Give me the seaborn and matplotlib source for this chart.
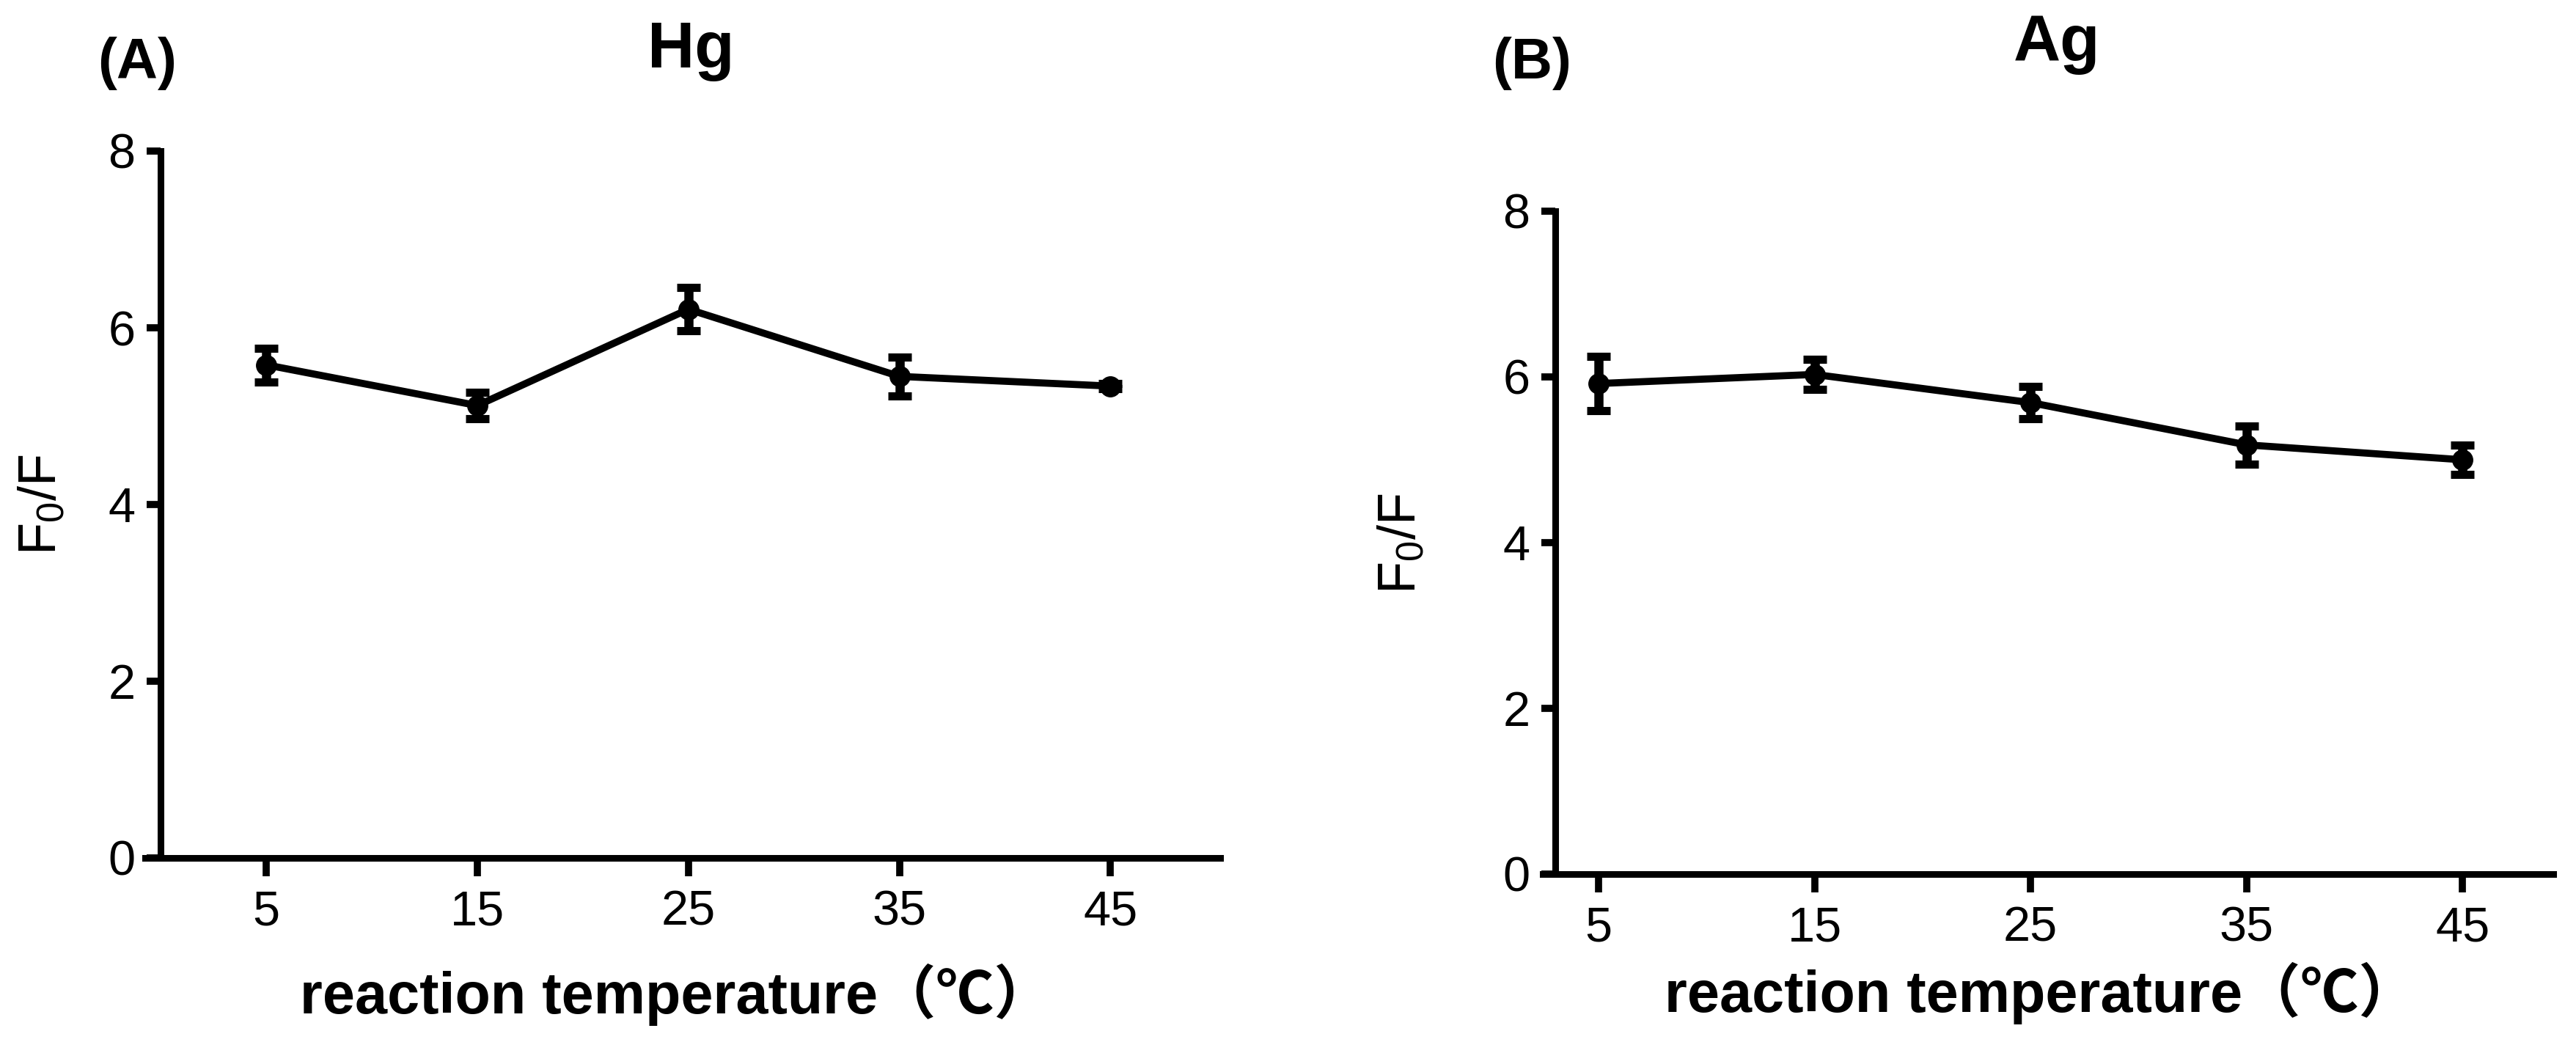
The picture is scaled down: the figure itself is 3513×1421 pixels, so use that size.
import numpy as np
import pandas as pd
import matplotlib
matplotlib.use("Agg")
import matplotlib.pyplot as plt
import matplotlib.font_manager as fm
import seaborn as sns

# ---------------- data ----------------
temperature = [5, 15, 25, 35, 45]
hg_values = [5.58, 5.12, 6.21, 5.45, 5.34]
hg_errors = [0.19, 0.15, 0.245, 0.22, 0.03]
ag_values = [5.92, 6.03, 5.69, 5.18, 5.00]
ag_errors = [0.33, 0.18, 0.195, 0.23, 0.18]
y_ticks = [0, 2, 4, 6, 8]
panel_titles = ["Hg", "Ag"]
panel_tags = ["(A)", "(B)"]
x_label = "reaction temperature\uff08\u2103\uff09"
y_label = r"$\mathregular{F_0/F}$"

sns.set_theme(style="ticks")
installed = {f.name for f in fm.fontManager.ttflist}
narrow = "Liberation Sans Narrow" in installed
base = "Liberation Sans Narrow" if narrow else "Liberation Sans"
k = 1.1 if narrow else 1.0  # enlarge condensed font so widths stay similar
plt.rcParams["font.family"] = [base, "Noto Sans CJK SC", "DejaVu Sans"]
plt.rcParams["mathtext.fontset"] = "custom"
plt.rcParams["mathtext.rm"] = base
plt.rcParams["mathtext.it"] = base
plt.rcParams["mathtext.bf"] = base + ":bold"

W, H = 3513, 1421
fig = plt.figure(figsize=(W / 100, H / 100), dpi=100)
fig.patch.set_facecolor("white")

def px_rect(x0, x1, y0, y1):
    return [x0 / W, 1 - y1 / H, (x1 - x0) / W, (y1 - y0) / H]

ax1 = fig.add_axes(px_rect(198, 1664, 206, 1170))
ax2 = fig.add_axes(px_rect(2104, 3482, 288, 1192))

panels = [
    (ax1, hg_values, hg_errors, (-0.74, 50.2), 0),
    (ax2, ag_values, ag_errors, (2.42, 49.2), 3),
]

for ax, vals, errs, xlim, spine_x in panels:
    df = pd.DataFrame({"T": temperature, "v": vals})
    ax.errorbar(temperature, vals, yerr=errs, fmt="none", ecolor="black",
                elinewidth=9, capsize=11.5, capthick=8, zorder=3)
    sns.lineplot(data=df, x="T", y="v", ax=ax, color="black", lw=7,
                 marker="o", markersize=20, markeredgecolor="black",
                 markerfacecolor="black", errorbar=None, zorder=4)
    ax.set_xlim(*xlim)
    ax.set_ylim(0, 8)
    ax.set_xticks(temperature)
    ax.set_xticklabels([str(t) for t in temperature])
    ax.set_yticks(y_ticks)
    ax.set_yticklabels([str(t) for t in y_ticks])
    ax.set_xlabel("")
    ax.set_ylabel("")
    for s in ["top", "right"]:
        ax.spines[s].set_visible(False)
    ax.spines["left"].set_position(("data", spine_x))
    for s in ["left", "bottom"]:
        ax.spines[s].set_linewidth(6.5)
        ax.spines[s].set_color("black")
        ax.spines[s].set_capstyle("projecting")
    ax.tick_params(axis="x", length=18, width=7, pad=13, labelsize=48 * k,
                   colors="black")
    ax.tick_params(axis="y", length=14, width=7, pad=11, labelsize=48 * k,
                   colors="black")
    ax.set_facecolor("white")
    for lab in ax.get_xticklabels() + ax.get_yticklabels():
        lab.set_fontfamily(base)

def ftext(x, y, s, **kw):
    fig.text(x / W, 1 - y / H, s, color="black", **kw)

# y labels
ftext(57, 688, y_label, rotation=90, ha="center", va="center", fontsize=52 * k)
ftext(1911, 741, y_label, rotation=90, ha="center", va="center", fontsize=52 * k)

# titles
ftext(942, 92, panel_titles[0], ha="center", va="baseline", fontsize=64 * k,
      fontweight="bold")
ftext(2805, 83, panel_titles[1], ha="center", va="baseline", fontsize=64 * k,
      fontweight="bold")

# panel tags
ftext(133, 107, panel_tags[0], ha="left", va="baseline", fontsize=56 * k,
      fontweight="bold")
ftext(2035, 107, panel_tags[1], ha="left", va="baseline", fontsize=56 * k,
      fontweight="bold")

# x labels
ftext(922, 1382, x_label, ha="center", va="baseline", fontsize=57 * k,
      fontweight="bold")
ftext(2783, 1380, x_label, ha="center", va="baseline", fontsize=57 * k,
      fontweight="bold")

fig.savefig("out.png", dpi=100, facecolor="white")
